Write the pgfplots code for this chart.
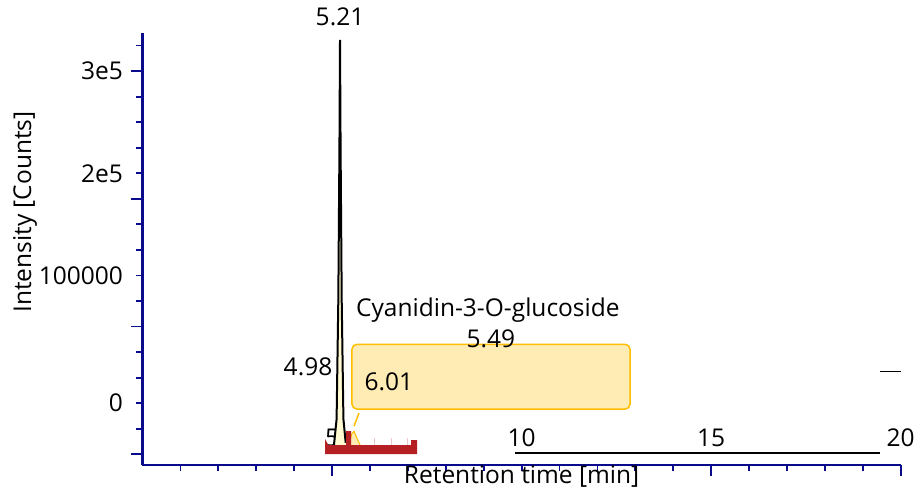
\documentclass[border=0pt]{standalone}
\usepackage{pgfplots}
\pgfplotsset{compat=1.18}
\usepackage{fontspec}
\setmainfont{Open Sans}
\definecolor{axblue}{RGB}{10,10,140}
\definecolor{redbar}{RGB}{180,32,36}
\definecolor{boxfill}{RGB}{255,235,180}
\definecolor{boxedge}{RGB}{255,190,0}
\definecolor{peakfill}{RGB}{255,250,210}
\definecolor{pinkline}{RGB}{238,200,200}
\begin{document}
\begin{tikzpicture}
\useasboundingbox (-142.5pt,-27pt) rectangle (772.5pt,465pt);
\begin{axis}[
  scale only axis, width=758.2pt, height=432pt,
  at={(0pt,0pt)}, anchor=south west,
  xmin=0, xmax=20, ymin=-48437, ymax=289844,
  axis x line*=bottom, axis y line*=left,
  axis line style={axblue, line width=2.4pt, -},
  clip=false,
  font=\fontsize{24.5}{28}\selectfont,
  tick style={axblue, line width=1.8pt},
  tick align=outside,
  major tick length=11pt, minor tick length=6pt,
  xtick={5,15,20}, xticklabels={},
  minor xtick={1,2,3,4,6,7,8,9,10,11,12,13,14,16,17,18,19},
  ytick={-40000,60000,160000,260000}, yticklabels={},
  minor ytick={-20000,0,...,280000},
  extra y ticks={0,100000,180000,260000},
  extra y tick labels={0,100000,2e5,3e5},
  extra y tick style={major tick length=5pt},
  extra x ticks={5,10,15,20},
  extra x tick labels={5,10,15,20},
  extra x tick style={major tick length=0pt, xticklabel style={anchor=center, yshift=27pt}},
  yticklabel style={anchor=east, xshift=-11pt},
  scaled y ticks=false,
  xlabel={Retention time [min]},
  xlabel style={at={(axis description cs:0.5,0)}, anchor=center, yshift=-11pt},
  ylabel={Intensity [Counts]},
  ylabel style={at={(axis description cs:-0.155,0.5856)}, anchor=center},
]
% chromatogram fill
\addplot[fill=peakfill, draw=none] coordinates {
 (4.90,-34000) (5.05,-33000) (5.12,-12500) (5.165,80000) (5.195,200000) (5.21,284400)
 (5.225,200000) (5.255,80000) (5.30,-12500) (5.36,-31000) (5.45,-30000)
 (5.52,-24000) (5.58,-22000) (5.65,-27000) (5.75,-33500) (6.20,-34000)
} -- cycle;
\addplot[fill=boxfill, draw=boxedge, line width=1pt] coordinates {
 (5.45,-32000) (5.52,-24000) (5.58,-22000) (5.65,-27000) (5.75,-33500) (5.45,-33500)
} -- cycle;
% chromatogram line
\addplot[black, line width=2pt] coordinates {
 (4.90,-34000) (5.05,-33000) (5.12,-12500) (5.165,80000) (5.195,200000) (5.21,284400)
 (5.225,200000) (5.255,80000) (5.30,-12500) (5.36,-31000)
};
% red baseline shape
\addplot[fill=redbar, draw=none] coordinates {
 (4.814,-28000) (4.90,-32812) (5.368,-32812) (5.368,-21875) (5.50,-21875) (5.50,-32812)
 (7.083,-32812) (7.083,-28906) (7.241,-28906) (7.241,-39844) (4.814,-39844)
} -- cycle;
\addplot[pinkline, line width=1pt] coordinates {(6.13,-27300) (6.13,-32800)};
\addplot[pinkline, line width=1pt] coordinates {(6.58,-27300) (6.58,-32800)};
\addplot[pinkline, line width=1pt] coordinates {(7.00,-27300) (7.00,-32800)};
% stray black lines
\addplot[black, line width=2pt] coordinates {(9.826,-39062) (19.454,-39062)};
\addplot[black, line width=1pt] coordinates {(19.454,25000) (20.0,25000)};
% annotation
\draw[boxedge, line width=1.5pt] (axis cs:5.71,-7800) -- (axis cs:5.58,-18000);
\draw[rounded corners=5pt, fill=boxfill, draw=boxedge, line width=1.5pt]
  (axis cs:5.526,46094) rectangle (axis cs:12.86,-4687);
\node at (axis cs:6.50,16400) {6.01};
\node at (axis cs:9.19,50000) {5.49};
\node at (axis cs:9.11,72656) {Cyanidin-3-O-glucoside};
\node at (axis cs:4.366,28125) {4.98};
\node at (axis cs:5.21,302344) {5.21};
\end{axis}
\end{tikzpicture}
\end{document}
